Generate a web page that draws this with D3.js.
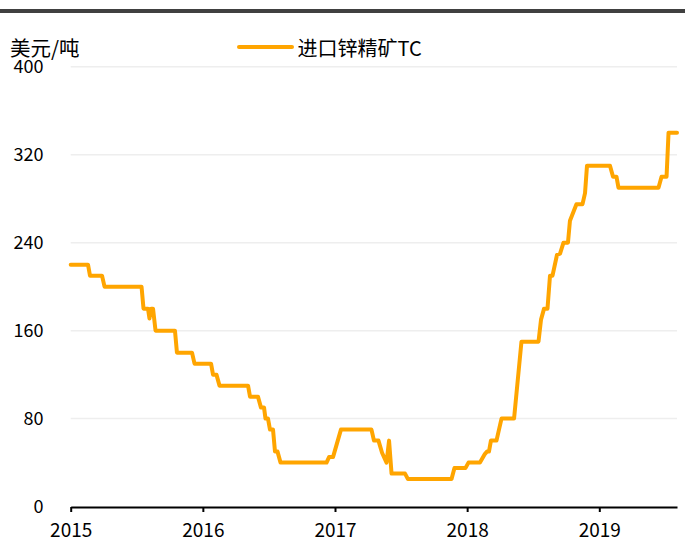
<!DOCTYPE html>
<html><head><meta charset="utf-8">
<script src="https://cdn.jsdelivr.net/npm/d3@7"></script>
<style>
html,body{margin:0;padding:0;background:#fff;}
svg{display:block;font-family:"Noto Sans CJK SC","Noto Sans",sans-serif;}
</style></head>
<body>
<svg id="chart" width="685" height="541"></svg>
<script>
// decimal years
const dates = [2015.000,2015.131,2015.146,2015.237,2015.256,2015.536,2015.551,2015.585,2015.596,2015.608,
2015.623,2015.642,2015.789,2015.804,2015.918,2015.937,2016.062,2016.077,2016.103,2016.126,
2016.342,2016.357,2016.417,2016.440,2016.463,2016.474,2016.493,2016.508,2016.531,2016.546,
2016.565,2016.588,2016.936,2016.955,2016.985,2017.045,2017.276,2017.295,2017.329,2017.356,
2017.390,2017.409,2017.428,2017.530,2017.552,2017.882,2017.904,2017.987,2018.010,2018.097,
2018.135,2018.150,2018.165,2018.180,2018.222,2018.260,2018.355,2018.411,2018.540,2018.559,
2018.582,2018.608,2018.627,2018.646,2018.680,2018.703,2018.729,2018.763,2018.778,2018.827,
2018.873,2018.892,2018.907,2019.081,2019.104,2019.130,2019.145,2019.448,2019.471,2019.509,
2019.524,2019.588];
const values = [220,220,210,210,200,200,180,180,171,180,
180,160,160,140,140,130,130,120,120,110,
110,100,100,90,90,80,80,70,70,50,
50,40,40,45,45,70,70,60,60,49,
40,60,30,30,25,25,35,35,40,40,
48,50,50,60,60,80,80,150,150,170,
180,180,210,210,229,230,240,240,260,275,
275,285,310,310,300,300,290,290,300,300,
340,340];
const xTicks = [2015,2016,2017,2018,2019];
const yTicks = [0,80,160,240,320,400];
const seriesName = "进口锌精矿TC";
const unitLabel = "美元/吨";

const svg = d3.select("#chart");
const x = d3.scaleLinear().domain([2015, 2019.588]).range([70.7, 677]);
const y = d3.scaleLinear().domain([0, 400]).range([506.6, 66.7]);

// top dark bar
svg.append("rect").attr("x",0).attr("y",9).attr("width",685).attr("height",4).attr("fill","#404040");

// gridlines
svg.append("g").selectAll("line").data(yTicks.filter(d=>d>0)).join("line")
  .attr("x1",70.7).attr("x2",677).attr("y1",d=>y(d)).attr("y2",d=>y(d))
  .attr("stroke","#eeeeee").attr("stroke-width",1.5);

// y labels
svg.append("g").selectAll("text").data(yTicks).join("text")
  .attr("x",43.5).attr("y",d=>y(d)).attr("dy","0.37em")
  .attr("text-anchor","end").attr("font-size",18).attr("fill","#000").text(d=>d);

// x axis
const xAxis = d3.axisBottom(x).tickValues(xTicks).tickFormat(d3.format("d")).tickSize(5).tickSizeOuter(0);
const gx = svg.append("g").attr("transform","translate(0,507)").call(xAxis);
gx.select(".domain").attr("stroke","#000").attr("stroke-width",2);
gx.selectAll(".tick line").attr("stroke","#000").attr("stroke-width",2);
gx.selectAll(".tick text").attr("y",29.5).attr("dy",0).attr("font-size",19)
  .attr("fill","#000").attr("font-family","'Noto Sans CJK SC','Noto Sans',sans-serif");

// line
const pts = dates.map((d,i)=>[d, values[i]]);
svg.append("path").datum(pts)
  .attr("fill","none").attr("stroke","#FFA500").attr("stroke-width",4)
  .attr("stroke-linejoin","round").attr("stroke-linecap","round")
  .attr("d", d3.line().x(d=>x(d[0])).y(d=>y(d[1])));

// unit label
svg.append("text").attr("x",10).attr("y",56).attr("font-size",20.5).attr("fill","#000").text(unitLabel);

// legend
svg.append("line").attr("x1",239).attr("x2",292).attr("y1",47).attr("y2",47)
  .attr("stroke","#FFA500").attr("stroke-width",4).attr("stroke-linecap","round");
svg.append("text").attr("x",297.5).attr("y",55.5).attr("font-size",20).attr("fill","#000").text(seriesName);
</script>
</body></html>
